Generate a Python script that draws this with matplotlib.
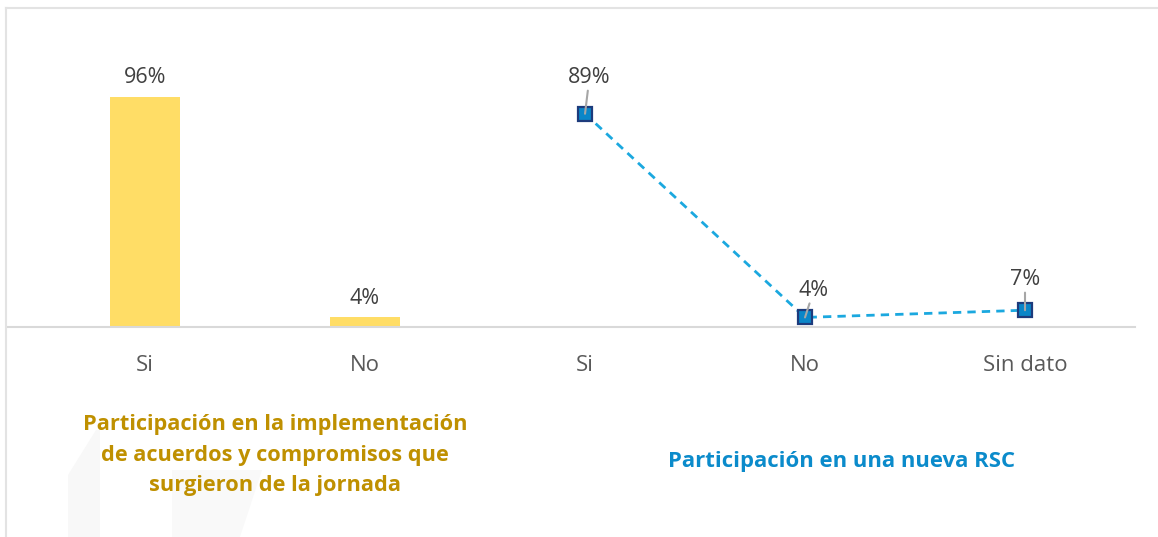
import matplotlib.pyplot as plt
from matplotlib.patches import Polygon
from matplotlib.lines import Line2D

plt.rcParams['font.family'] = ['Open Sans', 'DejaVu Sans']

# Datos
categorias = ['Si', 'No', 'Si', 'No', 'Sin dato']
impl_vals = [96, 4]          # Participación en la implementación
rsc_vals = [89, 4, 7]        # Participación en una nueva RSC
impl_pos = [0, 1]
rsc_pos = [2, 3, 4]

W, H = 1158, 537
fig = plt.figure(figsize=(W / 100, H / 100), dpi=100)

# marco gris claro (solo borde superior e izquierdo) y marca de agua tenue
fig.add_artist(Line2D([6 / W, 1], [1 - 8 / H] * 2, color='#E3E3E3', lw=1.5))
fig.add_artist(Line2D([6 / W] * 2, [0, 1 - 8 / H], color='#E3E3E3', lw=1.5))
fig.patches.append(Polygon([(68 / W, 0), (68 / W, 62 / H), (96 / W, 107 / H), (100 / W, 107 / H), (100 / W, 0)],
                           closed=True, transform=fig.transFigure, facecolor='#F8F8F8', edgecolor='none'))
fig.patches.append(Polygon([(172 / W, 0), (172 / W, 67 / H), (262 / W, 67 / H), (240 / W, 0)],
                           closed=True, transform=fig.transFigure, facecolor='#F9F9F9', edgecolor='none'))

# ejes: base en y=327 px, 100% = 239.6 px
left, right = 8 / W, 1135 / W
bottom = (H - 327) / H
height = 239.6 / H
ax = fig.add_axes([left, bottom, right - left, height])
ax.set_xlim(-0.623, 4.5)
ax.set_ylim(0, 100)

ax.bar(impl_pos, impl_vals, width=0.32, color='#FFDD66')
ax.plot(rsc_pos, rsc_vals, ls=(0, (3, 2.2)), color='#1BA8DF', lw=2,
        marker='s', ms=10, mfc='#0A86C8', mec='#1D3B7C', mew=1.6)

for x, v in zip(impl_pos, impl_vals):
    ax.text(x, v + 3.7, f'{v}%', fontsize=15.5, color='#404040', ha='center', va='bottom')

# etiquetas de la línea con guía
offsets = [(0.02, 10.8), (0.04, 7), (0.0, 8.5)]
for x, v, (dx, dy) in zip(rsc_pos, rsc_vals, offsets):
    ax.annotate(f'{v}%', xy=(x, v), xytext=(x + dx, v + dy), ha='center', va='bottom',
                fontsize=15.5, color='#404040',
                arrowprops=dict(arrowstyle='-', color='#A6A6A6', lw=1.5, shrinkA=0, shrinkB=0))

for s in ['top', 'right', 'left']:
    ax.spines[s].set_visible(False)
ax.spines['bottom'].set_color('#D9D9D9')
ax.spines['bottom'].set_linewidth(1.5)
ax.set_yticks([])
ax.set_xticks(range(len(categorias)))
ax.set_xticklabels(categorias, fontsize=16, color='#595959')
ax.tick_params(axis='x', length=0, pad=20)

fig.text(275 / W, 1 - 455 / H,
         'Participación en la implementación\nde acuerdos y compromisos que\nsurgieron de la jornada',
         ha='center', va='center', fontsize=15.7, fontweight='bold', color='#BF9000', linespacing=1.58)
fig.text(842 / W, 1 - 462 / H, 'Participación en una nueva RSC',
         ha='center', va='center', fontsize=15.9, fontweight='bold', color='#0B8BCB')

fig.savefig('out.png', dpi=100)
